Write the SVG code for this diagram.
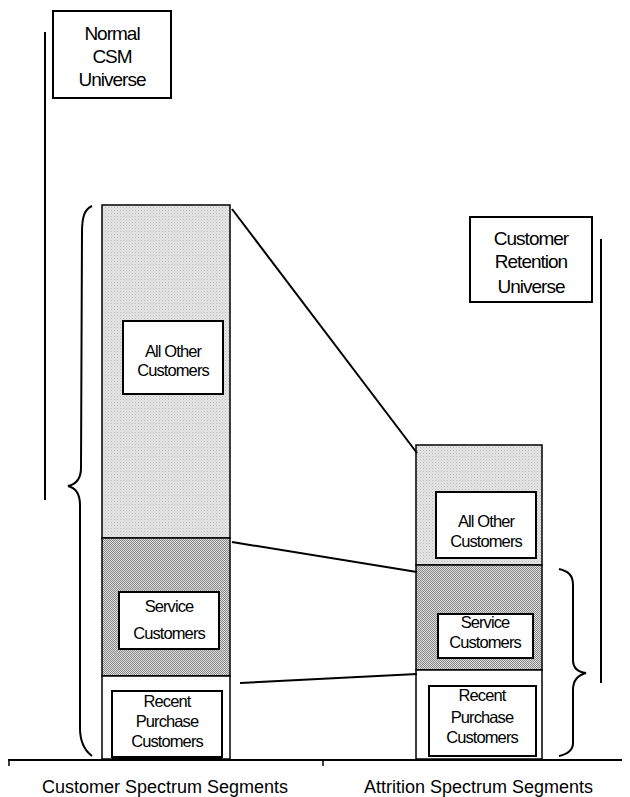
<svg xmlns="http://www.w3.org/2000/svg" width="630" height="797" viewBox="0 0 630 797">
<defs>
<pattern id="lite" width="3" height="3" patternUnits="userSpaceOnUse">
<rect width="3" height="3" fill="#e4e4e4"/>
<rect x="0" y="0" width="1" height="1" fill="#bdbdbd"/>
<rect x="1.5" y="1.5" width="1" height="1" fill="#cfcfcf"/>
</pattern>
<pattern id="dark" width="2" height="2" patternUnits="userSpaceOnUse">
<rect width="2" height="2" fill="#dcdcdc"/>
<rect x="0" y="0" width="1" height="1" fill="#8a8a8a"/>
<rect x="1" y="1" width="1" height="1" fill="#8a8a8a"/>
</pattern>
<style>
.col{stroke:#000;stroke-width:1.5}
.box{fill:#fff;stroke:#000;stroke-width:2}
.t{font-family:"Liberation Sans",Arial,sans-serif;font-size:16.5px;letter-spacing:-0.9px;text-anchor:middle;fill:#000}
.u{font-family:"Liberation Sans",Arial,sans-serif;font-size:19px;letter-spacing:-1px;text-anchor:middle;fill:#000}
.lab{font-family:"Liberation Sans",Arial,sans-serif;font-size:18px;fill:#000}
.ln{stroke:#000;stroke-width:2;fill:none}
</style>
</defs>
<rect width="630" height="797" fill="#fff"/>

<g id="normal-csm-universe">
<rect class="box" x="53" y="11" width="118" height="87"/>
<text class="u" x="112" y="40">Normal</text>
<text class="u" x="112" y="63">CSM</text>
<text class="u" x="112" y="86">Universe</text>
</g>

<g id="customer-retention-universe">
<rect class="box" x="470" y="217" width="122" height="85"/>
<text class="u" x="531" y="245">Customer</text>
<text class="u" x="531" y="268">Retention</text>
<text class="u" x="531" y="293">Universe</text>
</g>

<g id="left-column">
<rect class="col" x="102" y="205" width="128" height="333" fill="url(#lite)"/>
<rect class="col" x="102" y="538" width="128" height="138" fill="url(#dark)"/>
<rect class="col" x="102" y="676" width="128" height="83" fill="#fff"/>
</g>
<g id="left-all-other">
<rect class="box" x="123" y="321" width="100" height="73"/>
<text class="t" x="173" y="357">All Other</text>
<text class="t" x="173" y="376">Customers</text>
</g>
<g id="left-service">
<rect class="box" x="119" y="592" width="100" height="57"/>
<text class="t" x="169" y="612">Service</text>
<text class="t" x="169" y="639">Customers</text>
</g>
<g id="left-recent">
<rect class="box" x="112" y="691" width="110" height="66"/>
<line x1="112" y1="757.5" x2="222" y2="757.5" stroke="#000" stroke-width="3"/>
<text class="t" x="167" y="707">Recent</text>
<text class="t" x="167" y="727">Purchase</text>
<text class="t" x="167" y="747">Customers</text>
</g>

<g id="right-column">
<rect class="col" x="416" y="445" width="126" height="120" fill="url(#lite)"/>
<rect class="col" x="416" y="565" width="126" height="105" fill="url(#dark)"/>
<rect class="col" x="416" y="670" width="126" height="89" fill="#fff"/>
</g>
<g id="right-all-other">
<rect class="box" x="436" y="492" width="100" height="66"/>
<text class="t" x="486" y="527">All Other</text>
<text class="t" x="486" y="547">Customers</text>
</g>
<g id="right-service">
<rect class="box" x="438" y="614" width="95" height="44"/>
<text class="t" x="485" y="628">Service</text>
<text class="t" x="485" y="648">Customers</text>
</g>
<g id="right-recent">
<rect class="box" x="429" y="686" width="107" height="70"/>
<text class="t" x="482" y="701">Recent</text>
<text class="t" x="482" y="723">Purchase</text>
<text class="t" x="482" y="743">Customers</text>
</g>

<g id="connectors">
<line class="ln" x1="232" y1="209" x2="417" y2="453"/>
<line class="ln" x1="232" y1="542" x2="417" y2="572"/>
<line class="ln" x1="240" y1="683" x2="417" y2="674"/>
<path class="ln" d="M92,206 C85,209 82,216 82,232 L81,468 C81,478 77,484 68,486 C76,488 80,494 80,505 L80,728 C80,742 84,750 92,756"/>
<path class="ln" d="M559,569 C568,571 573,575 573,585 L573,660 C573,668 578,672 586,673 C578,675 573,680 573,690 L573,743 C573,750 568,754 559,756"/>
<line class="ln" x1="45" y1="32" x2="45" y2="500"/>
<line class="ln" x1="601" y1="239" x2="601" y2="683"/>
<line x1="8" y1="760" x2="622" y2="760" stroke="#000" stroke-width="2"/>
<line x1="9" y1="760" x2="9" y2="766" stroke="#000" stroke-width="1.5"/>
<line x1="323" y1="760" x2="323" y2="766" stroke="#000" stroke-width="1.5"/>
</g>

<g id="axis-labels">
<text class="lab" x="42" y="793">Customer Spectrum Segments</text>
<text class="lab" x="364" y="793">Attrition Spectrum Segments</text>
</g>
</svg>
